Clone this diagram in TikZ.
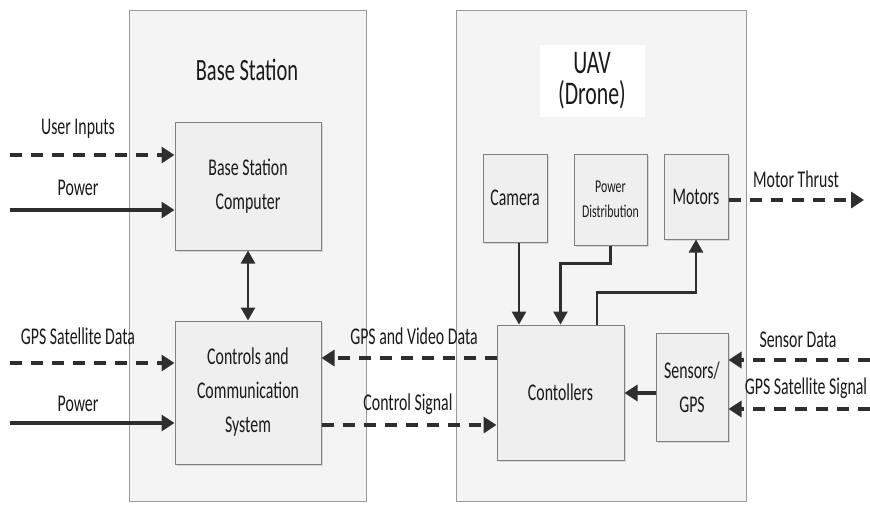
\documentclass[tikz,border=0pt]{standalone}
\usepackage{fontspec}
\setmainfont{Carlito}[FakeStretch=0.66]
\usetikzlibrary{arrows.meta,shadows}
\definecolor{ink}{HTML}{2E2E2E}
\definecolor{txt}{HTML}{1A1A1A}
\definecolor{outerfill}{HTML}{F4F4F4}
\definecolor{innerfill}{HTML}{EFEFEF}
\tikzset{
  outerbox/.style={draw=black!40, line width=1pt, fill=outerfill, inner sep=0pt},
  innerbox/.style={draw=black!50, line width=1pt, fill=innerfill, inner sep=0pt, align=center,
     text=txt, drop shadow={opacity=0.25, shadow xshift=2pt, shadow yshift=-2pt},
     font=\fontsize{24}{34}\selectfont},
  lbl/.style={text=txt, inner sep=0pt, font=\fontsize{24}{26}\selectfont},
  solidarrow/.style={draw=ink, line width=3.2pt, -{Triangle[length=13pt,width=16pt]}},
  dasharrow/.style={draw=ink, line width=3.5pt, dash pattern=on 12pt off 9pt, -{Triangle[length=13pt,width=16pt]}},
  thinarrow/.style={draw=ink, line width=2.6pt, -{Triangle[length=13pt,width=14pt]}},
}
\begin{document}
\begin{tikzpicture}[x=1pt,y=-1pt]
\useasboundingbox[fill=white] (0,0) rectangle (870,504);
% outer boxes
\node[outerbox, minimum width=237pt, minimum height=491pt] (bs) at (247.5,255.5) {};
\node[outerbox, minimum width=290pt, minimum height=491pt] (uav) at (601,255.5) {};
\node[text=txt, inner sep=0pt, font=\fontsize{31}{34}\selectfont] (bstitle) at (247,70) {Base Station};
\node[fill=white, minimum width=105pt, minimum height=72pt, inner sep=0pt, align=center, text=txt,
      font=\fontsize{33}{31}\selectfont] (uavtitle) at (592,81) {UAV\\(Drone)};
% inner boxes
\node[innerbox, minimum width=146pt, minimum height=128pt] (bsc) at (248,186) {Base Station\\Computer};
\node[innerbox, minimum width=146pt, minimum height=143pt] (ccs) at (248,392.5) {Controls and\\Communication\\System};
\node[innerbox, minimum width=64pt, minimum height=88pt] (cam) at (515,198) {Camera};
\node[innerbox, minimum width=73pt, minimum height=91pt, font=\fontsize{18}{25}\selectfont] (pd) at (610.5,199.5) {Power\\Distribution};
\node[innerbox, minimum width=64pt, minimum height=85pt] (mot) at (696,196.5) {Motors};
\node[innerbox, minimum width=127pt, minimum height=135pt] (ctl) at (560.5,392.5) {Contollers};
\node[innerbox, minimum width=72pt, minimum height=108pt] (sen) at (692,387) {Sensors/\\GPS};
% free ends
\coordinate (ui0) at (10,155);
\coordinate (pw0) at (10,210);
\coordinate (gs0) at (10,363);
\coordinate (pw1) at (10,423);
\coordinate (mt1) at (864,200);
\coordinate (sd0) at (870,360);
\coordinate (gss0) at (870,409);
% left inputs
\draw[dasharrow] (ui0) -- (ui0 -| bsc.west);
\draw[solidarrow] (pw0) -- (pw0 -| bsc.west);
\draw[dasharrow] (gs0) -- (gs0 -| ccs.west);
\draw[solidarrow] (pw1) -- (pw1 -| ccs.west);
\node[lbl] (lui) at (78,129) {User Inputs};
\node[lbl] (lpw0) at (78,188) {Power};
\node[lbl] (lgs) at (78,336) {GPS Satellite Data};
\node[lbl] (lpw1) at (78,404) {Power};
% double arrow
\draw[thinarrow, {Triangle[length=13pt,width=14pt]}-{Triangle[length=13pt,width=14pt]}] (bsc.south) -- (ccs.north);
% links between systems
\draw[dasharrow] (ctl.west |- 0,358) -- (ccs.east |- 0,358);
\draw[dasharrow] (ccs.east |- 0,425) -- (ctl.west |- 0,425);
\node[lbl] (lgv) at (414,336) {GPS and Video Data};
\node[lbl] (lcs) at (408,404) {Control Signal};
% UAV internal
\draw[thinarrow] ([xshift=4pt]cam.south) -- ([xshift=4pt]cam.south |- ctl.north);
\draw[thinarrow] (pd.south) -- ++(0,18) -| (ctl.north);
\draw[thinarrow] ([xshift=36.5pt]ctl.north) -- ++(0,-32) -| (mot.south);
\draw[solidarrow] ([yshift=-6pt]sen.west) -- ([yshift=-6pt]sen.west -| ctl.east);
% right side
\draw[dasharrow] (mot.east |- mt1) -- (mt1);
\node[lbl] (lmt) at (796,179) {Motor Thrust};
\draw[dasharrow] (sd0) -- (sd0 -| sen.east);
\draw[dasharrow] (gss0) -- (gss0 -| sen.east);
\node[lbl] (lsd) at (798,340) {Sensor Data};
\node[lbl] (lgss) at (806,388) {GPS Satellite Signal};
\end{tikzpicture}
\end{document}
